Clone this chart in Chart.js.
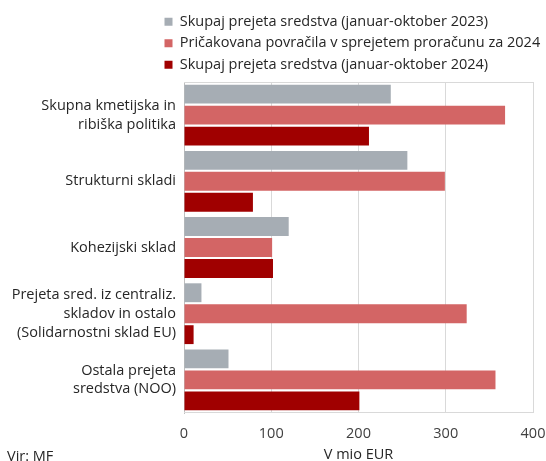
<!DOCTYPE html>
<html>
<head>
<meta charset="utf-8">
<script src="https://cdn.jsdelivr.net/npm/chart.js@4.4.1/dist/chart.umd.min.js"></script>
<style>
  html, body { margin: 0; padding: 0; background: #fff; }
  #wrap { width: 546px; height: 461px; }
</style>
</head>
<body>
<div id="wrap"><canvas id="fundsChart" width="546" height="461"></canvas></div>
<script>
'use strict';

// podatki (v mio EUR), odčitano s slike
var categories = [
  ['Skupna kmetijska in', 'ribiška politika'],
  'Strukturni skladi',
  'Kohezijski sklad',
  ['Prejeta sred. iz centraliz.', 'skladov in ostalo', '(Solidarnostni sklad EU)'],
  ['Ostala prejeta', 'sredstva (NOO)']
];
var seriesNames = [
  'Skupaj prejeta sredstva (januar-oktober 2023)',
  'Pričakovana povračila v sprejetem proračunu za 2024',
  'Skupaj prejeta sredstva (januar-oktober 2024)'
];
var received2023 = [237, 256, 120, 20, 51];
var planned2024 = [368, 299, 101, 324, 357];
var received2024 = [212, 79, 102, 11, 201];
var xTicks = [0, 100, 200, 300, 400];

var colors = ['#A6ADB4', '#D36565', '#A00000'];
var fontFamily = '"Open Sans", "Noto Sans", sans-serif';
var fontSize = 14.5;

// legenda je v originalu poravnana levo pri x=165
var legendShift = {
  id: 'legendShift',
  afterLayout: function(chart) {
    chart.legend.left = 157.5;
  }
};

// okvir okoli risalne površine
var plotFrame = {
  id: 'plotFrame',
  beforeDatasetsDraw: function(chart) {
    var a = chart.chartArea;
    var ctx = chart.ctx;
    ctx.save();
    ctx.strokeStyle = '#D9D9D9';
    ctx.lineWidth = 1;
    ctx.beginPath();
    ctx.moveTo(a.left, a.top + 0.5);
    ctx.lineTo(a.right, a.top + 0.5);
    ctx.moveTo(a.left, a.bottom - 0.5);
    ctx.lineTo(a.right, a.bottom - 0.5);
    ctx.stroke();
    ctx.restore();
  }
};

// vir
var sourceNote = {
  id: 'sourceNote',
  afterDraw: function(chart) {
    var ctx = chart.ctx;
    ctx.save();
    ctx.font = fontSize + 'px ' + fontFamily;
    ctx.fillStyle = '#262626';
    ctx.textAlign = 'left';
    ctx.textBaseline = 'alphabetic';
    ctx.fillText('Vir: MF', 7, 461);
    ctx.restore();
  }
};

var datasets = [received2023, planned2024, received2024].map(function(values, i) {
  return {
    label: seriesNames[i],
    data: values,
    backgroundColor: colors[i],
    borderWidth: 0,
    barPercentage: 0.9,
    categoryPercentage: 0.95
  };
});

var ctx = document.getElementById('fundsChart').getContext('2d');

var chart = new Chart(ctx, {
  type: 'bar',
  data: {
    labels: categories,
    datasets: datasets
  },
  options: {
    indexAxis: 'y',
    responsive: false,
    animation: false,
    layout: {
      padding: { top: 7.5, left: 0, right: 0, bottom: -3 }
    },
    plugins: {
      legend: {
        position: 'top',
        align: 'start',
        labels: {
          boxWidth: 8,
          boxHeight: 8,
          padding: 7,
          color: '#262626',
          font: { family: fontFamily, size: fontSize }
        }
      },
      tooltip: { enabled: false }
    },
    scales: {
      x: {
        min: xTicks[0],
        max: xTicks[xTicks.length - 1],
        afterBuildTicks: function(scale) {
          scale.ticks = xTicks.map(function(v) { return { value: v }; });
        },
        afterFit: function(scale) {
          scale.height = 51;
          scale.paddingRight = 13;
        },
        grid: {
          color: '#D9D9D9',
          drawTicks: false
        },
        border: { display: false },
        ticks: {
          padding: 12,
          color: '#404040',
          font: { family: fontFamily, size: fontSize }
        },
        title: {
          display: true,
          text: 'V mio EUR',
          color: '#262626',
          padding: { top: 4, bottom: 0 },
          font: { family: fontFamily, size: fontSize }
        }
      },
      y: {
        afterFit: function(scale) {
          scale.width = 184;
        },
        grid: { display: false, drawTicks: false },
        border: { color: '#BFBFBF' },
        ticks: {
          padding: 8,
          color: '#262626',
          font: { family: fontFamily, size: fontSize, lineHeight: 1.3 }
        }
      }
    }
  },
  plugins: [legendShift, plotFrame, sourceNote]
});
</script>
</body>
</html>
